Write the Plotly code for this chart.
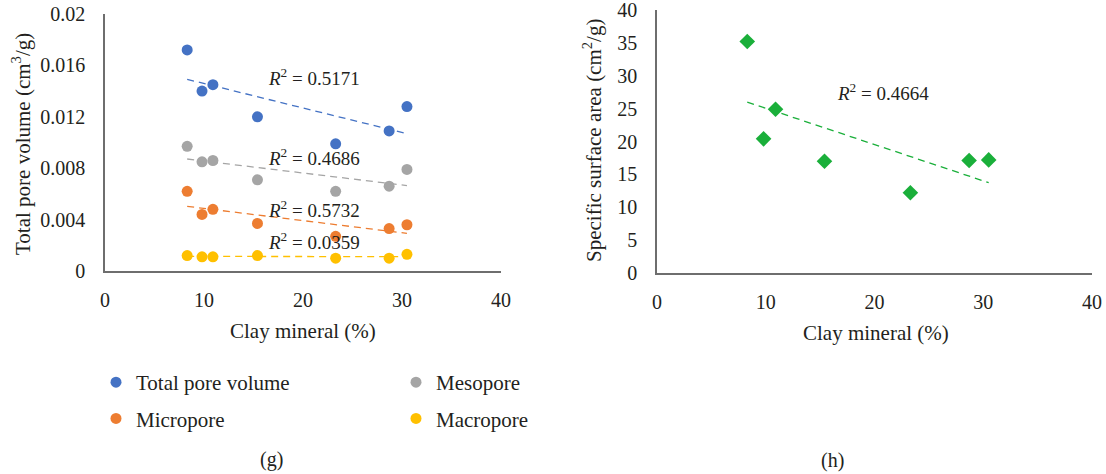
import numpy as np
import plotly.graph_objects as go

# Clay mineral content (%) of the seven samples
clay = [8.3, 9.8, 10.9, 15.4, 23.3, 28.7, 30.5]

# Pore volumes (cm3/g)
total_pv = [0.0172, 0.0140, 0.0145, 0.0120, 0.0099, 0.0109, 0.0128]
mesopore = [0.0097, 0.0085, 0.0086, 0.0071, 0.0062, 0.0066, 0.0079]
micropore = [0.0062, 0.0044, 0.0048, 0.0037, 0.0027, 0.0033, 0.0036]
macropore = [0.0012, 0.0011, 0.0011, 0.0012, 0.0010, 0.0010, 0.0013]

# Specific surface area (cm2/g)
ssa = [35.2, 20.4, 24.9, 17.0, 12.2, 17.1, 17.2]

r2_labels = {
    "total": "0.5171",
    "meso": "0.4686",
    "micro": "0.5732",
    "macro": "0.0359",
    "ssa": "0.4664",
}

FONT = "Liberation Serif"
TXT = "#231f20"
W, H = 1106, 474


def px_x(p):
    return p / W


def px_y(p):
    return 1 - p / H


def trend(x, y):
    k, b = np.polyfit(x, y, 1)
    xs = np.array([min(x), max(x)])
    return xs, k * xs + b


fig = go.Figure()

series = [
    ("Total pore volume", total_pv, "#4472c4", "legend", "g1"),
    ("Micropore", micropore, "#ed7d31", "legend", "g2"),
    ("Mesopore", mesopore, "#a5a5a5", "legend2", "g3"),
    ("Macropore", macropore, "#ffc000", "legend2", "g4"),
]

for name, vals, color, leg, grp in series:
    xs, ys = trend(clay, vals)
    fig.add_trace(go.Scatter(
        x=xs, y=ys, mode="lines", showlegend=False,
        line=dict(color=color, width=1.3, dash="7px,5px"),
        xaxis="x", yaxis="y", hoverinfo="skip"))

for name, vals, color, leg, grp in series:
    fig.add_trace(go.Scatter(
        x=clay, y=vals, mode="markers", name=name,
        marker=dict(color=color, size=11, line=dict(width=0)),
        legend=leg, legendgroup=grp, xaxis="x", yaxis="y"))

xs, ys = trend(clay, ssa)
fig.add_trace(go.Scatter(
    x=xs, y=ys, mode="lines", showlegend=False,
    line=dict(color="#1aaf3a", width=1.3, dash="7px,5px"),
    xaxis="x2", yaxis="y2", hoverinfo="skip"))
fig.add_trace(go.Scatter(
    x=clay, y=ssa, mode="markers", showlegend=False,
    marker=dict(color="#1aaf3a", size=12, symbol="diamond", line=dict(width=0)),
    xaxis="x2", yaxis="y2"))

axis_common = dict(
    showgrid=False, zeroline=False, showline=True, automargin=False,
    ticklabeloverflow="allow",
    linecolor="#6e6e6e", linewidth=1.5, ticks="",
    tickfont=dict(family=FONT, size=20, color=TXT),
)

fig.update_layout(
    width=W, height=H,
    margin=dict(l=0, r=0, t=0, b=0),
    paper_bgcolor="white", plot_bgcolor="white",
    font=dict(family=FONT, color=TXT, size=20),
    xaxis=dict(domain=[px_x(105), px_x(501)], range=[0, 40], dtick=10,
               anchor="y", ticklabelstandoff=10, **axis_common),
    yaxis=dict(domain=[px_y(271), px_y(14)], range=[0, 0.02], dtick=0.004,
               anchor="x", ticklabelstandoff=14, **axis_common),
    xaxis2=dict(domain=[px_x(657), px_x(1092)], range=[0, 40], dtick=10,
                anchor="y2", ticklabelstandoff=10, **axis_common),
    yaxis2=dict(domain=[px_y(273), px_y(10)], range=[0, 40], dtick=5,
                anchor="x2", ticklabelstandoff=14, **axis_common),
    legend=dict(x=px_x(96), y=px_y(362), xanchor="left", yanchor="top",
                font=dict(family=FONT, size=21, color=TXT),
                tracegroupgap=6, itemwidth=30, bgcolor="rgba(0,0,0,0)"),
    legend2=dict(x=px_x(396), y=px_y(362), xanchor="left", yanchor="top",
                 font=dict(family=FONT, size=21, color=TXT),
                 tracegroupgap=6, itemwidth=30, bgcolor="rgba(0,0,0,0)"),
)

ann = []


def r2(x, y, val, xref, yref):
    ann.append(dict(x=x, y=y, xref=xref, yref=yref, xanchor="left",
                    yanchor="middle", showarrow=False,
                    text=f"<i>R</i><sup>2</sup> = {val}",
                    font=dict(family=FONT, size=19, color=TXT)))


r2(16.3, 0.0151, r2_labels["total"], "x", "y")
r2(16.3, 0.00887, r2_labels["meso"], "x", "y")
r2(16.3, 0.00482, r2_labels["micro"], "x", "y")
r2(16.3, 0.00233, r2_labels["macro"], "x", "y")
r2(16.4, 27.5, r2_labels["ssa"], "x2", "y2")


def label(x, y, text, angle=0, size=20):
    ann.append(dict(x=px_x(x), y=px_y(y), xref="paper", yref="paper",
                    xanchor="center", yanchor="middle", showarrow=False,
                    text=text, textangle=angle,
                    font=dict(family=FONT, size=size, color=TXT)))


label(21, 144, "Total pore volume (cm<sup>3</sup>/g)", -90, 21)
label(592, 141, "Specific surface area (cm<sup>2</sup>/g)", -90, 21)
label(303, 331, "Clay mineral (%)", 0, 21)
label(876, 333, "Clay mineral (%)", 0, 21)
label(271, 459, "(g)")
label(832, 460, "(h)")

fig.update_layout(annotations=ann)

fig.write_html("out.html")
